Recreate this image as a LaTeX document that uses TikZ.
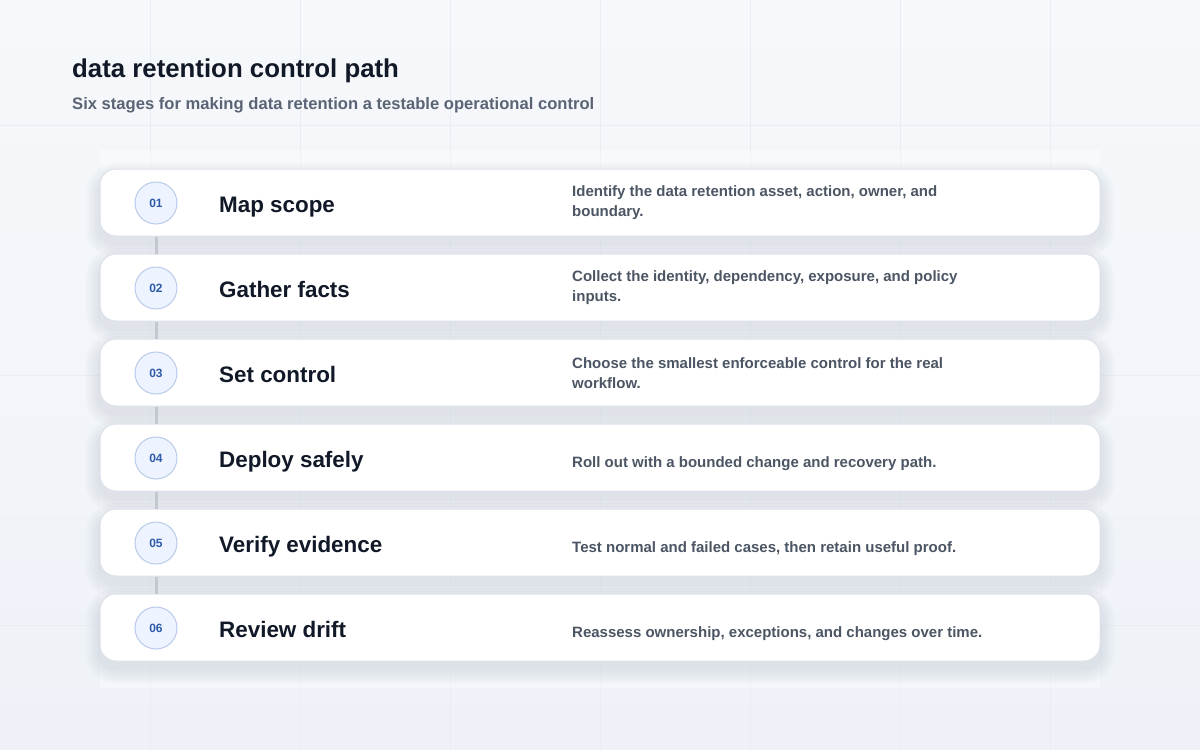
\documentclass[tikz,border=0pt]{standalone}
\usepackage{fontspec}
\setmainfont{Liberation Sans}
\usetikzlibrary{positioning}
\definecolor{bgtop}{HTML}{F6F8FB}
\definecolor{bgbot}{HTML}{EEF2F8}
\definecolor{gridc}{HTML}{E9EDF3}
\definecolor{cardline}{HTML}{DCE1EA}
\definecolor{shadowc}{HTML}{7C869E}
\definecolor{ink}{HTML}{111827}
\definecolor{subink}{HTML}{5B6475}
\definecolor{descink}{HTML}{4B5563}
\definecolor{numfill}{HTML}{EEF4FF}
\definecolor{numline}{HTML}{B9CBE8}
\definecolor{numink}{HTML}{2F5AA8}
\definecolor{linkc}{HTML}{C3C7CF}
\tikzset{
  card/.style={draw=cardline,line width=1pt,fill=white,rounded corners=16pt,
    minimum width=1000pt,minimum height=67pt,inner sep=0pt},
  numdot/.style={circle,draw=numline,line width=1pt,fill=numfill,minimum size=42pt,
    inner sep=0pt,text=numink,font=\fontsize{12}{14}\selectfont\bfseries},
  steptitle/.style={anchor=base west,text=ink,font=\fontsize{22.4}{26}\selectfont\bfseries,inner sep=0pt},
  stepdesc/.style={anchor=west,align=left,text=descink,
    font=\fontsize{15}{20}\selectfont\bfseries,inner sep=0pt},
}
\begin{document}
\begin{tikzpicture}[x=1pt,y=-1pt]
	\useasboundingbox (0,0) rectangle (1200,750);
	\shade[top color=bgtop,bottom color=bgbot] (0,0) rectangle (1200,750);
	% faint grid
	\foreach\x in{150,300,...,1050}{\draw[gridc,line width=0.5pt] (\x,0) -- (\x,750);}
	\foreach\y in{125,375,625}{\draw[gridc,line width=0.5pt] (0,\y) -- (1200,\y);}
	\fill[white,opacity=0.3] (100,150) rectangle (1100,688);
	% heading
	\node[anchor=base west,inner sep=0pt,text=ink,font=\fontsize{25.8}{30}\selectfont\bfseries] (title) at (72,77) {data retention control path};
	\node[anchor=base west,inner sep=0pt,text=subink,font=\fontsize{16.6}{19}\selectfont\bfseries] (subtitle) at (72,109) {Six stages for making data retention a testable operational control};
	% soft shadows under the cards
	\foreach\i in{1,...,6}{
		\foreach\s in{14,11,8,5,2}{
			\fill[shadowc,opacity=0.035,rounded corners=16pt+\s] (100-\s,169+85*\i-85+8-\s) rectangle (1100+\s,236+85*\i-85+8+\s);}
	}
	\foreach\i/\t/\dy/\d [count=\n] in{
		01/Map scope/0/{Identify the data retention asset, action, owner, and\\boundary.},
		02/Gather facts/0/{Collect the identity, dependency, exposure, and policy\\inputs.},
		03/Set control/0/{Choose the smallest enforceable control for the real\\workflow.},
		04/Deploy safely/6/{Roll out with a bounded change and recovery path.},
		05/Verify evidence/6/{Test normal and failed cases, then retain useful proof.},
		06/Review drift/6/{Reassess ownership, exceptions, and changes over time.}}{
		\node[card] (card\n) at (600,202.5+85*\n-85) {};
		\node[numdot] (num\n) at (156,203+85*\n-85) {\i};
		\node[steptitle] (name\n) at (219,212+85*\n-85) {\t};
		\node[stepdesc] (desc\n) at (572,203+\dy+85*\n-85) {\d};
	}
	% links between the numbered dots, in the gaps
	\foreach\a/\b in{1/2,2/3,3/4,4/5,5/6}{
		\draw[linkc,line width=3pt] (card\a.south -| num\a) -- (card\b.north -| num\b);}
\end{tikzpicture}
\end{document}
